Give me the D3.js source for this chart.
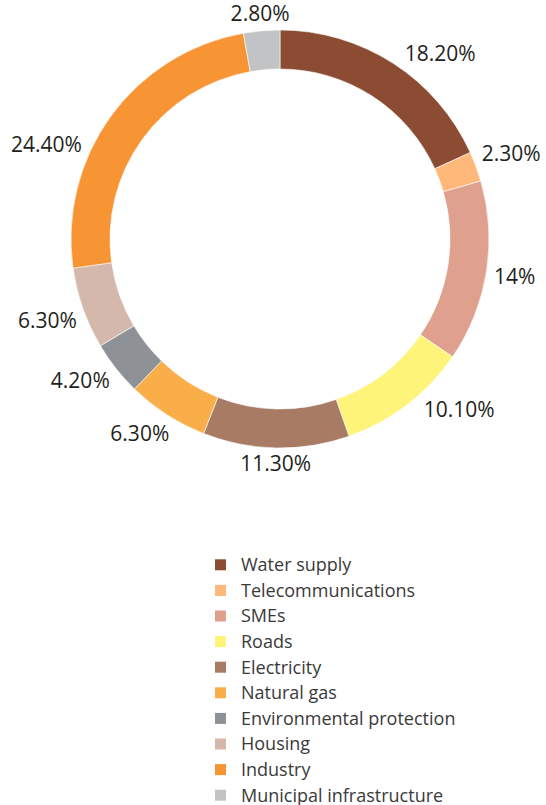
<!DOCTYPE html>
<html>
<head>
<meta charset="utf-8">
<script src="https://cdn.jsdelivr.net/npm/d3@7"></script>
<style>
  body { margin: 0; background: #fff; }
  svg { display: block; font-family: "Open Sans", "Noto Sans", sans-serif; }
  .pct { font-size: 21px; fill: #231f20; }
  .legend text { font-size: 18px; fill: #3a3a3a; }
</style>
</head>
<body>
<div id="chart"></div>
<script>
var categories = ['Water supply', 'Telecommunications', 'SMEs', 'Roads', 'Electricity',
  'Natural gas', 'Environmental protection', 'Housing', 'Industry', 'Municipal infrastructure'];
var shares = [18.2, 2.3, 14, 10.1, 11.3, 6.3, 4.2, 6.3, 24.4, 2.8];
var shareLabels = ['18.20%', '2.30%', '14%', '10.10%', '11.30%', '6.30%', '4.20%', '6.30%', '24.40%', '2.80%'];
var colors = ['#8b4c33', '#fdb87a', '#dfa08e', '#fff47a', '#a87b64',
  '#f9ae4a', '#8e9196', '#d3b8ab', '#f79433', '#c2c3c5'];

var width = 546,
    height = 805,
    cx = 280,
    cy = 239,
    outerR = 209,
    innerR = 170,
    labelGap = 7;

// labels were hand placed in the original, nudge a few (degrees)
var labelNudge = { 'Water supply': 8, 'Roads': -9, 'Natural gas': 3, 'Environmental protection': 3, 'Industry': -14 };

var svg = d3.select('#chart').append('svg').attr('width', width).attr('height', height);

var rows = categories.map(function (c, i) {
  return { name: c, value: shares[i], label: shareLabels[i], color: colors[i] };
});

var pie = d3.pie().sort(null).value(function (d) { return d.value; }),
    arc = d3.arc().innerRadius(innerR).outerRadius(outerR),
    arcs = pie(rows);

var g = svg.append('g').attr('transform', 'translate(' + cx + ',' + cy + ')');

g.selectAll('path').data(arcs).enter().append('path')
  .attr('d', arc)
  .attr('fill', function (d) { return d.data.color; })
  .attr('stroke', '#fff')
  .attr('stroke-width', 0.6);

g.selectAll('text.pct').data(arcs).enter().append('text')
  .attr('class', 'pct')
  .attr('text-anchor', 'middle')
  .attr('dy', '0.35em')
  .text(function (d) { return d.data.label; })
  .attr('transform', function (d) {
    var a = (d.startAngle + d.endAngle) / 2 + (labelNudge[d.data.name] || 0) * Math.PI / 180,
        s = Math.sin(a), c = Math.cos(a),
        halfW = this.getComputedTextLength() / 2,
        halfH = 8,
        r = outerR + labelGap + halfW * Math.abs(s) + halfH * Math.abs(c);
    return 'translate(' + (r * s) + ',' + (-r * c) + ')';
  });

// legend
var legendY = d3.scaleBand().domain(categories).range([552, 808]);

var legend = svg.append('g').attr('class', 'legend');
var items = legend.selectAll('g').data(rows).enter().append('g')
  .attr('transform', function (d) { return 'translate(215,' + (legendY(d.name) + legendY.bandwidth() / 2) + ')'; });

items.append('rect')
  .attr('x', 0).attr('y', -5.5)
  .attr('width', 11).attr('height', 11)
  .attr('fill', function (d) { return d.color; });

items.append('text')
  .attr('x', 26)
  .attr('dy', '0.35em')
  .text(function (d) { return d.name; });
</script>
</body>
</html>
